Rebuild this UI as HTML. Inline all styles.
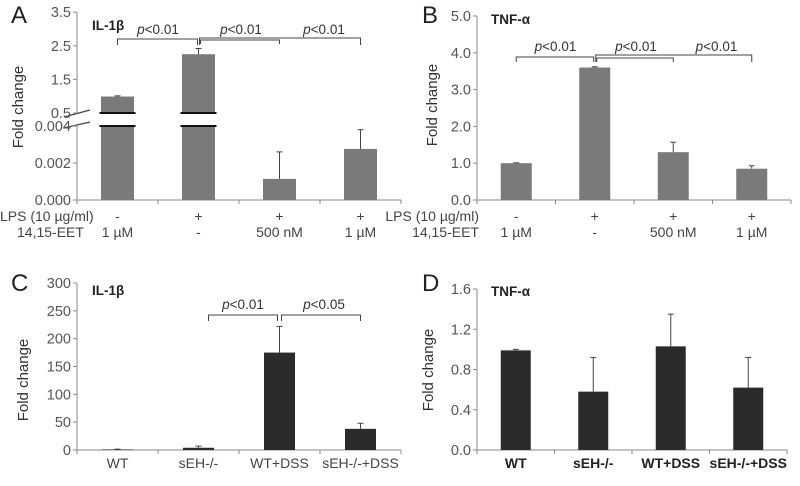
<!DOCTYPE html>
<html><head><meta charset="utf-8">
<style>
html,body{margin:0;padding:0;background:#fff;}
svg{display:block;font-family:"Liberation Sans",Arial,sans-serif;}
</style></head>
<body>
<svg id="fig" width="800" height="486" viewBox="0 0 800 486" xmlns="http://www.w3.org/2000/svg"></svg>
<script>
// Panel A data (IL-1β, LPS)
const catsA = ["1", "2", "3", "4"];
const valsA = [0.99, 2.25, 0.00114, 0.00276];
const errsA = [1.01, 2.42, 0.0026, 0.0038];
const ticksAUpper = ["3.5", "2.5", "1.5", "0.5"];
const ticksALower = ["0.004", "0.002", "0.000"];
// Panel B data (TNF-α, LPS)
const valsB = [1.0, 3.6, 1.3, 0.85];
const errsB = [1.01, 3.62, 1.57, 0.93];
const ticksB = ["0.0", "1.0", "2.0", "3.0", "4.0", "5.0"];
// Shared row labels for A/B
const lpsRow = ["-", "+", "+", "+"];
const eetRow = ["1 µM", "-", "500 nM", "1 µM"];
// Panel C data (IL-1β, DSS)
const catsC = ["WT", "sEH-/-", "WT+DSS", "sEH-/-+DSS"];
const valsC = [1, 4, 175, 38];
const errsC = [1.5, 7, 222, 48];
const ticksC = ["0", "50", "100", "150", "200", "250", "300"];
// Panel D data (TNF-α, DSS)
const valsD = [0.99, 0.58, 1.03, 0.62];
const errsD = [1.0, 0.92, 1.35, 0.92];
const ticksD = ["0.0", "0.4", "0.8", "1.2", "1.6"];

const NS = "http://www.w3.org/2000/svg";
const fig = document.getElementById("fig");
function mk(tag, attrs, parent, txt) {
  const e = document.createElementNS(NS, tag);
  for (const k in attrs) e.setAttribute(k, attrs[k]);
  if (txt !== undefined) e.textContent = txt;
  (parent || fig).appendChild(e);
  return e;
}
const AX = "#8a8a8a", TX = "#555";

function panelGroup(name) {
  const g = mk("g", {});
  
  
  return g;
}
function letter(g, x, y, s) {
  const t = mk("text", {x: x, y: y, "font-size": 24, fill: "#222"}, g, s);
  
  
}
function title(g, x, y, s) {
  const t = mk("text", {x: x, y: y, "font-size": 13.5, "font-weight": "bold", fill: "#222"}, g, s);
  
  
}
function ylabel(g, x, y) {
  const t = mk("text", {x: x, y: y, "font-size": 15, fill: "#333", "text-anchor": "middle", transform: "rotate(-90 " + x + " " + y + ")"}, g, "Fold change");
  
  
}
function tick(g, x, y, s) {
  const l = mk("line", {x1: x - 4, x2: x, y1: y, y2: y, stroke: AX}, g);
  
  
  const t = mk("text", {x: x - 6, y: y + 5, "font-size": 14.5, fill: TX, "text-anchor": "end"}, g, s);
  
  
}
function xaxis(g, x0, x1, y, n) {
  const l = mk("line", {x1: x0, x2: x1, y1: y, y2: y, stroke: AX}, g);
  
  
  for (let i = 0; i <= n; i++) {
    const xx = x0 + (x1 - x0) * i / n;
    const tk = mk("line", {x1: xx, x2: xx, y1: y, y2: y + 4, stroke: AX}, g);
    
    
  }
}
function bar(g, cx, w, yTop, yBase, fill, name) {
  const r = mk("rect", {x: cx - w / 2, y: yTop, width: w, height: yBase - yTop, fill: fill}, g);
  
  
}
function err(g, cx, yTop, yE) {
  const l = mk("line", {x1: cx, x2: cx, y1: yTop, y2: yE, stroke: "#444"}, g);
  
  
  const c = mk("line", {x1: cx - 3, x2: cx + 3, y1: yE, y2: yE, stroke: "#444"}, g);
  
  
}
function bracket(g, xa, xb, y, h, label, lx, ly) {
  const p = mk("path", {d: "M" + xa + " " + (y + h) + "V" + y + "H" + xb + "V" + (y + h), fill: "none", stroke: "#444"}, g);
  
  
  if (label) {
    const t = mk("text", {x: lx, y: ly, "font-size": 13.5, fill: "#333", "text-anchor": "middle"}, g);
    
    
    const ti = mk("tspan", {"font-style": "italic"}, t, "p");
    
    
    const tr = mk("tspan", {}, t, label);
    
    
  }
}
function catLabel(g, x, y, s, anchor, bold, name) {
  const t = mk("text", {x: x, y: y, "font-size": 14, fill: bold ? "#222" : "#444", "font-weight": bold ? "bold" : "normal", "text-anchor": anchor}, g, s);
  
  
}

// ---------- Panel A ----------
(function () {
  const g = panelGroup("panel-a");
  const x0 = 77, x1 = 401, base = 200, n = catsA.length;
  const bw = (x1 - x0) / n;
  const yLow = v => base - v / 0.004 * 74;
  const yUp = v => 113 - (v - 0.5) * 33.6;
  const yA = v => v <= 0.004 ? yLow(v) : yUp(v);
  const a1 = mk("line", {x1: x0, x2: x0, y1: 12, y2: 113, stroke: AX}, g);
  
  
  const a2 = mk("line", {x1: x0, x2: x0, y1: 126, y2: base, stroke: AX}, g);
  
  
  const d1 = mk("line", {x1: 64, y1: 117, x2: 90, y2: 110, stroke: "#444", "stroke-width": 1.2}, g);
  
  
  const d2 = mk("line", {x1: 64, y1: 128, x2: 90, y2: 122, stroke: "#444", "stroke-width": 1.2}, g);
  
  
  ticksAUpper.forEach(s => tick(g, x0, yUp(parseFloat(s)), s));
  ticksALower.forEach(s => tick(g, x0, yLow(parseFloat(s)), s));
  xaxis(g, x0, x1, base, n);
  valsA.forEach((v, i) => {
    const cx = x0 + bw * (i + 0.5);
    const top = yA(v);
    bar(g, cx, 33, top, base, "#7a7a7a", "bar-a-" + catsA[i]);
    err(g, cx, top, yA(errsA[i]));
    if (v > 0.004) {
      const gap = mk("rect", {x: cx - 18, y: 114, width: 36, height: 11, fill: "#fff"}, g);
      
      
      const l1 = mk("line", {x1: cx - 18, x2: cx + 18, y1: 113, y2: 113, stroke: "#111", "stroke-width": 2}, g);
      
      
      const l2 = mk("line", {x1: cx - 18, x2: cx + 18, y1: 126, y2: 126, stroke: "#111", "stroke-width": 2}, g);
      
      
    }
    catLabel(g, cx, 221, lpsRow[i], "middle", false, "lps-label");
    catLabel(g, cx, 237, eetRow[i], "middle", false, "eet-label");
  });
  const c = i => x0 + bw * (i + 0.5);
  bracket(g, c(0), c(1) - 1, 39, 6, "<0.01", (c(0) + c(1)) / 2, 34);
  bracket(g, c(1) + 2, c(2), 40, 4, "<0.01", (c(1) + c(2)) / 2 + 2, 34);
  bracket(g, c(1) + 1, c(3), 38, 7, "<0.01", (c(2) + c(3)) / 2 + 4, 34);
  catLabel(g, 0, 221, "LPS (10 µg/ml)", "start", false, "lps-row-title");
  catLabel(g, 17, 237, "14,15-EET", "start", false, "eet-row-title");
  letter(g, 11, 23, "A");
  title(g, 92, 30, "IL-1β");
  ylabel(g, 23, 107);
})();

// ---------- Panel B ----------
(function () {
  const g = panelGroup("panel-b");
  const x0 = 477, x1 = 791, base = 200, n = valsB.length;
  const bw = (x1 - x0) / n;
  const y = v => base - v * 36.8;
  const ax = mk("line", {x1: x0, x2: x0, y1: 16, y2: base, stroke: AX}, g);
  
  
  ticksB.forEach(s => tick(g, x0, y(parseFloat(s)), s));
  xaxis(g, x0, x1, base, n);
  const c = i => x0 + bw * (i + 0.5);
  valsB.forEach((v, i) => {
    bar(g, c(i), 31, y(v), base, "#7a7a7a", "bar-b-" + (i + 1));
    err(g, c(i), y(v), y(errsB[i]));
    catLabel(g, c(i), 221, lpsRow[i], "middle", false, "lps-label");
    catLabel(g, c(i), 237, eetRow[i], "middle", false, "eet-label");
  });
  bracket(g, c(0), c(1) - 1, 57, 5, "<0.01", (c(0) + c(1)) / 2, 51);
  bracket(g, c(1) + 2, c(2), 58, 4, "<0.01", (c(1) + c(2)) / 2 + 2, 51);
  bracket(g, c(1) + 1, c(3), 55, 7, "<0.01", (c(2) + c(3)) / 2 + 4, 51);
  catLabel(g, 479, 221, "LPS (10 µg/ml)", "end", false, "lps-row-title");
  catLabel(g, 479, 237, "14,15-EET", "end", false, "eet-row-title");
  letter(g, 422, 23, "B");
  title(g, 491, 24, "TNF-α");
  ylabel(g, 437, 105);
})();

// ---------- Panel C ----------
(function () {
  const g = panelGroup("panel-c");
  const x0 = 77, x1 = 401, base = 450, n = catsC.length;
  const bw = (x1 - x0) / n;
  const y = v => base - v / 300 * 167;
  const ax = mk("line", {x1: x0, x2: x0, y1: 283, y2: base, stroke: AX}, g);
  
  
  ticksC.forEach(s => tick(g, x0, y(parseFloat(s)), s));
  xaxis(g, x0, x1, base, n);
  const c = i => x0 + bw * (i + 0.5);
  valsC.forEach((v, i) => {
    bar(g, c(i), 31, y(v), base, "#2b2b2b", "bar-c-" + catsC[i].toLowerCase().replace(/[^a-z]+/g, "-"));
    err(g, c(i), y(v), y(errsC[i]));
    catLabel(g, c(i), 468, catsC[i], "middle", false, "x-category-label");
  });
  bracket(g, c(1) + 10, c(2) - 2, 315, 6, "<0.01", (c(1) + c(2)) / 2 + 4, 309);
  bracket(g, c(2) + 2, c(3), 315, 6, "<0.05", (c(2) + c(3)) / 2 + 4, 309);
  letter(g, 11, 291, "C");
  title(g, 92, 295, "IL-1β");
  ylabel(g, 28, 380);
})();

// ---------- Panel D ----------
(function () {
  const g = panelGroup("panel-d");
  const x0 = 477, x1 = 787, base = 450, n = valsD.length;
  const bw = (x1 - x0) / n;
  const y = v => base - v / 1.6 * 161;
  const ax = mk("line", {x1: x0, x2: x0, y1: 289, y2: base, stroke: AX}, g);
  
  
  ticksD.forEach(s => tick(g, x0, y(parseFloat(s)), s));
  xaxis(g, x0, x1, base, n);
  const c = i => x0 + bw * (i + 0.5);
  valsD.forEach((v, i) => {
    bar(g, c(i), 30, y(v), base, "#2b2b2b", "bar-d-" + catsC[i].toLowerCase().replace(/[^a-z]+/g, "-"));
    err(g, c(i), y(v), y(errsD[i]));
    catLabel(g, c(i), 468, catsC[i], "middle", true, "x-category-label");
  });
  letter(g, 422, 291, "D");
  title(g, 491, 296, "TNF-α");
  ylabel(g, 433, 370);
})();
</script>
</body></html>
